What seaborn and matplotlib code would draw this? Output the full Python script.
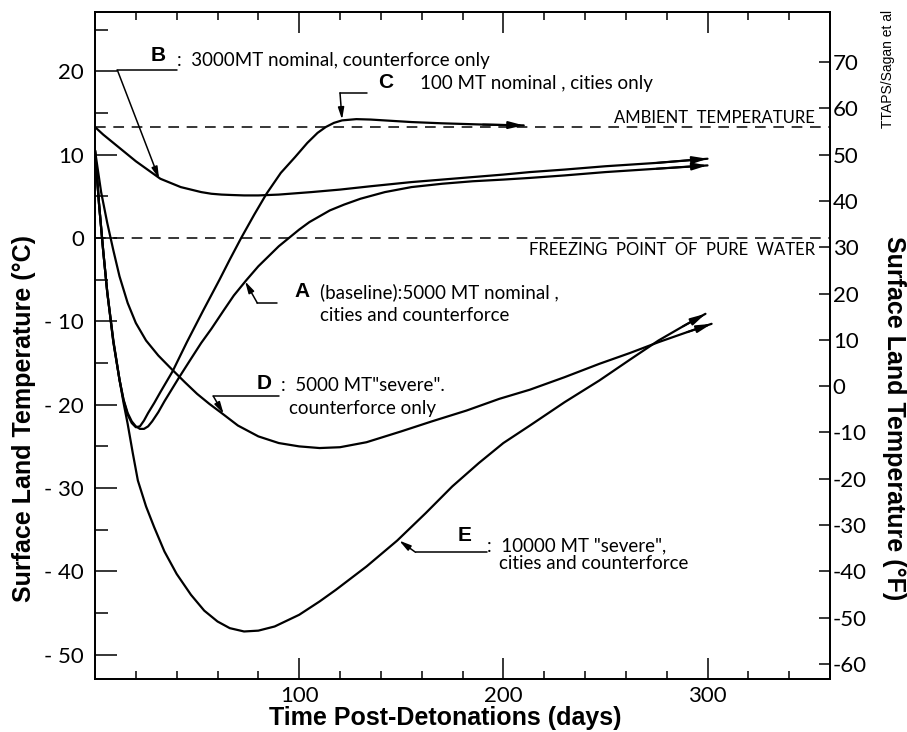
import matplotlib
matplotlib.use('Agg')
import matplotlib.pyplot as plt
import seaborn as sns
from matplotlib.ticker import MultipleLocator, FixedLocator, FuncFormatter

# curve readings (days, deg C)
a_days = [0, 2, 4, 6, 9, 12, 14, 16, 18, 20, 22, 24, 26, 28, 31, 34, 41, 47, 52, 57, 63, 68, 74, 80, 85, 90, 95,
          100, 105, 110, 115, 122, 130, 142, 155, 170, 185, 200, 213, 230, 250, 275, 300]
a_temp = [10.5, 4, -1.5, -6.5, -12.5, -17, -19.4, -21, -22, -22.6, -22.9, -22.9, -22.6, -22, -20.9, -19.6, -16.8,
          -14.5, -12.6, -10.9, -8.7, -6.9, -5.1, -3.4, -2.2, -1.0, 0, 1.0, 1.9, 2.6, 3.3, 4.0, 4.7, 5.5, 6.1, 6.5,
          6.8, 7.0, 7.2, 7.5, 7.9, 8.3, 8.7]

b_days = [0, 4, 8, 12, 16, 20, 24, 28, 32, 37, 42, 47, 52, 57, 62, 67, 73, 80, 90, 106, 120, 135, 155, 170, 185,
          200, 213, 230, 250, 275, 300]
b_temp = [13.3, 12.4, 11.6, 10.8, 10.0, 9.2, 8.5, 7.8, 7.1, 6.6, 6.1, 5.8, 5.5, 5.3, 5.2, 5.15, 5.1, 5.1, 5.2, 5.5,
          5.8, 6.2, 6.7, 7.0, 7.3, 7.6, 7.9, 8.2, 8.6, 9.0, 9.5]

c_days = [0, 2, 4, 6, 9, 12, 14, 16, 18, 20, 22, 24, 26, 29, 32, 38, 45, 53, 61, 66, 71.6, 78, 84, 91, 98, 104,
          109, 113, 117, 121, 128, 135, 145, 155, 170, 190, 210]
c_temp = [10.5, 4, -1.5, -6.5, -12.5, -17, -19.5, -21.2, -22.2, -22.7, -22.6, -21.9, -21.0, -19.8, -18.5, -16, -12.5,
          -8.7, -5, -2.6, 0, 2.8, 5.3, 7.8, 9.7, 11.4, 12.6, 13.3, 13.8, 14.1, 14.25, 14.2, 14.05, 13.9, 13.75,
          13.6, 13.5]

d_days = [0, 3, 6, 9, 12, 16, 20, 25, 31, 37, 44, 50, 56, 62, 70, 80, 90, 100, 110, 120, 133, 150, 165, 182, 198,
          213, 230, 247, 262, 276, 290, 302]
d_temp = [10.5, 5.5, 1.8, -1.5, -4.6, -7.8, -10.2, -12.3, -14.1, -15.6, -17.3, -18.7, -19.9, -21, -22.5, -23.8,
          -24.6, -25.0, -25.2, -25.1, -24.5, -23.2, -22.0, -20.7, -19.3, -18.2, -16.7, -15.1, -13.8, -12.5, -11.3,
          -10.3]

e_days = [0, 2, 4, 6, 9, 12, 14, 16, 18.5, 21, 25, 29, 34, 40, 47, 53.5, 60, 66, 73, 80, 88, 100, 110, 118, 133,
          148, 162, 175, 188, 200, 213, 230, 247, 262, 276, 288, 299]
e_temp = [10.5, 4, -1.5, -6.5, -12.3, -17, -19.8, -22.3, -25.8, -29.1, -32.2, -34.7, -37.6, -40.3, -42.8, -44.7,
          -46, -46.8, -47.2, -47.1, -46.6, -45.2, -43.6, -42.2, -39.4, -36.3, -33, -29.8, -27, -24.6, -22.5,
          -19.7, -17.1, -14.6, -12.3, -10.6, -9.1]

ambient = 13.3
freezing = 0
f_ticks = list(range(-60, 80, 10))

sns.set_style('ticks')
plt.rcParams['font.family'] = ['Lato', 'DejaVu Sans']
plt.rcParams.update({'text.color': 'black', 'axes.labelcolor': 'black',
                     'xtick.color': 'black', 'ytick.color': 'black', 'axes.edgecolor': 'black'})

fig = plt.figure(figsize=(9.07, 7.32), dpi=100)
ax = fig.add_axes([95/907, 1-679/732, 735/907, 667/732])

for xs, ys in [(a_days, a_temp), (b_days, b_temp), (c_days, c_temp), (d_days, d_temp), (e_days, e_temp)]:
    sns.lineplot(x=xs, y=ys, ax=ax, color='black', lw=1.6, sort=False, estimator=None)
    ax.annotate('', xy=(xs[-1], ys[-1]), xytext=(xs[-2], ys[-2]),
                arrowprops=dict(arrowstyle='-|>,head_length=0.9,head_width=0.22', color='black', lw=1.4,
                                shrinkA=0, shrinkB=0))

ax.axhline(ambient, color='black', lw=1.1, ls=(0, (7, 5)))
ax.axhline(freezing, color='black', lw=1.1, ls=(0, (7, 5)))

ax.set_xlim(0, 360)
ax.set_ylim(-52.9, 27.1)
ax.xaxis.set_major_locator(FixedLocator([100, 200, 300]))
ax.xaxis.set_minor_locator(MultipleLocator(20))
ax.yaxis.set_major_locator(MultipleLocator(10))
ax.yaxis.set_minor_locator(MultipleLocator(5))
ax.yaxis.set_major_formatter(FuncFormatter(lambda v, p: f'{int(round(v))}' if v >= 0 else f'- {int(round(-v))}'))
ax.tick_params(which='both', direction='in', top=True, right=False, width=1.1, colors='black')
ax.tick_params(axis='x', which='major', length=15, labelsize=16, pad=5)
ax.tick_params(axis='x', which='minor', length=6)
ax.tick_params(axis='y', which='major', length=16, labelsize=16, pad=8)
ax.tick_params(axis='y', which='minor', length=9)
for s in ax.spines.values():
    s.set_linewidth(1.3)
    s.set_color('black')

ax2 = ax.twinx()
lo, hi = ax.get_ylim()
ax2.set_ylim(lo*1.8+32, hi*1.8+32)
ax2.yaxis.set_major_locator(FixedLocator(f_ticks))
ax2.yaxis.set_major_formatter(FuncFormatter(lambda v, p: f'{int(round(v))}'))
ax2.tick_params(direction='in', length=8, width=1.1, labelsize=16, pad=2, colors='black')
for s in ax2.spines.values():
    s.set_linewidth(1.3)
    s.set_color('black')

# annotations
txt = dict(fontsize=13.5, color='black', va='center')
bold = dict(fontsize=15, fontweight='bold', color='black', va='center', ha='center',
            family=['Liberation Sans', 'DejaVu Sans'])
arrow = dict(arrowstyle='-|>,head_length=0.7,head_width=0.18', color='black', lw=1.1, shrinkA=0, shrinkB=0)
lead = dict(color='black', lw=1.1)

ax.text(30.9, 21.9, 'B', **bold)
ax.text(40, 21.3, ':  3000MT nominal, counterforce only', **txt)
ax.plot([11, 40], [20.1, 20.1], **lead)
ax.annotate('', xy=(31.4, 7.1), xytext=(11, 20.1), arrowprops=arrow)

ax.text(142.6, 18.6, 'C', **bold)
ax.text(159, 18.5, '100 MT nominal , cities only', **txt)
ax.plot([120, 133], [17.4, 17.4], **lead)
ax.annotate('', xy=(121, 14.2), xytext=(120, 17.4), arrowprops=arrow)

ax.text(101.5, -6.4, 'A', **bold)
ax.text(110, -6.5, '(baseline):5000 MT nominal ,', **txt)
ax.text(110, -9.3, 'cities and counterforce', **txt)
ax.plot([79.5, 89], [-7.8, -7.8], **lead)
ax.annotate('', xy=(73.5, -5.2), xytext=(79.5, -7.8), arrowprops=arrow)

ax.text(83, -17.5, 'D', **bold)
ax.text(91, -17.7, ':  5000 MT"severe".', **txt)
ax.text(95, -20.5, 'counterforce only', **txt)
ax.plot([58, 90], [-19, -19], **lead)
ax.annotate('', xy=(63, -21.1), xytext=(58, -19), arrowprops=arrow)

ax.text(181, -35.7, 'E', **bold)
ax.text(192, -36.9, ':  10000 MT "severe",', **txt)
ax.text(198, -39, 'cities and counterforce', **txt)
ax.plot([157, 192], [-37.7, -37.7], **lead)
ax.annotate('', xy=(149, -36.3), xytext=(157, -37.7), arrowprops=arrow)

ax.text(352.5, 14.4, 'AMBIENT  TEMPERATURE', fontsize=12, ha='right', va='center')
ax.text(352.5, -1.5, 'FREEZING  POINT  OF  PURE  WATER', fontsize=12, ha='right', va='center')

lab = dict(fontsize=18, fontweight='bold', family=['Liberation Sans', 'DejaVu Sans'],
           ha='center', va='center', color='black')
fig.text(24/907, 1-418/732, 'Surface Land Temperature (°C)', rotation=90, **lab)
fig.text(894/907, 1-418/732, 'Surface Land Temperature (°F)', rotation=270, **lab)
fig.text(445/907, 1-718/732, 'Time Post-Detonations (days)', **lab)
fig.text(888/907, 1-10/732, 'TTAPS/Sagan et al', rotation=90, fontsize=10, color='black',
         family=['Liberation Sans', 'DejaVu Sans'], ha='center', va='top')

fig.savefig('out.png', dpi=100)
